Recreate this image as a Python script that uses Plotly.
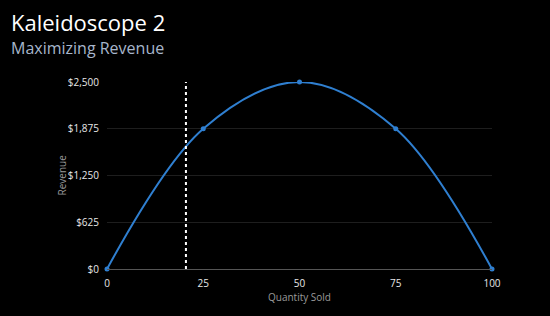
import plotly.graph_objects as go

quantity = [0, 25, 50, 75, 100]
revenue = [0, 1875, 2500, 1875, 0]
x_ticks = [0, 25, 50, 75, 100]
y_ticks = [0, 625, 1250, 1875, 2500]
y_tick_labels = ["$0", "$625", "$1,250", "$1,875", "$2,500"]
marker_q = 20.5

fig = go.Figure()
fig.add_trace(go.Scatter(
    x=quantity, y=revenue, mode="lines+markers",
    line=dict(color="#2f7fd0", width=2, shape="spline", smoothing=1),
    marker=dict(color="#2f7fd0", size=5),
    cliponaxis=False, hoverinfo="skip", showlegend=False,
))
fig.add_shape(type="line", x0=marker_q, x1=marker_q, y0=0, y1=2500,
              xref="x", yref="y", line=dict(color="white", width=2, dash="dot"))

fig.update_layout(
    width=550, height=316,
    paper_bgcolor="black", plot_bgcolor="black",
    margin=dict(l=107, r=58, t=82, b=47),
    font=dict(family="Open Sans, sans-serif", color="#e0e0e0", size=10),
)
fig.add_annotation(text="Kaleidoscope 2", xref="paper", yref="paper",
                   x=-107/385 + 9/385, y=1 + (82-22)/187, xanchor="left", yanchor="middle",
                   showarrow=False, font=dict(size=22, color="white"))
fig.add_annotation(text="Maximizing Revenue", xref="paper", yref="paper",
                   x=-107/385 + 9/385, y=1 + (82-48)/187, xanchor="left", yanchor="middle",
                   showarrow=False, font=dict(size=16, color="#a7b6cb"))
fig.add_annotation(text="Revenue", xref="paper", yref="paper",
                   x=-(107-61)/385, y=0.5, xanchor="center", yanchor="middle",
                   textangle=-90, showarrow=False, font=dict(size=10, color="#9a9a9a"))

fig.update_xaxes(range=[0, 100], tickvals=x_ticks, showgrid=False, zeroline=False,
                 showline=True, linecolor="#555555", linewidth=1,
                 ticks="outside", ticklen=5, tickcolor="rgba(0,0,0,0)",
                 title=dict(text="Quantity Sold", font=dict(size=10, color="#9a9a9a"), standoff=4),
                 tickfont=dict(size=10, color="#e8e8e8"))
fig.update_yaxes(range=[0, 2500], tickvals=y_ticks, ticktext=y_tick_labels,
                 showgrid=True, gridcolor="#1e1e1e", zeroline=False,
                 ticks="outside", ticklen=5, tickcolor="rgba(0,0,0,0)",
                 tickfont=dict(size=10, color="#e8e8e8"))

fig.write_html("out.html")
